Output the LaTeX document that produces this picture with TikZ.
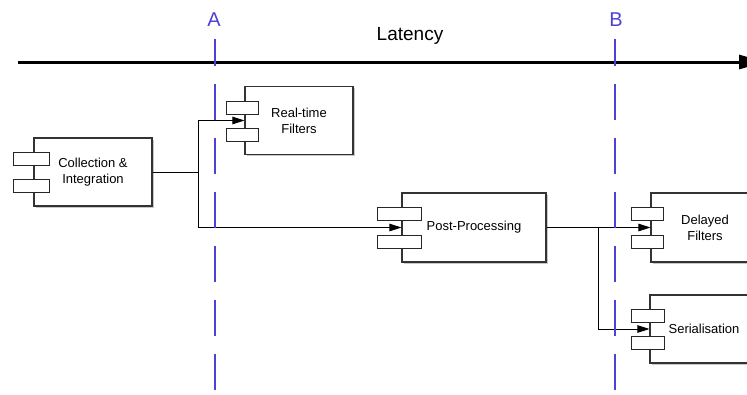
\documentclass[tikz,border=0pt]{standalone}
\usepackage{fontspec}
\setmainfont{Liberation Sans}
\usetikzlibrary{arrows.meta,shadows}
\definecolor{markblue}{RGB}{78,66,214}
\begin{document}
\begin{tikzpicture}[x=1pt,y=-1pt,
  comp/.style={draw=black!80, line width=1.1pt, fill=white, align=center,
    font=\fontsize{13}{16}\selectfont, inner sep=0pt,
    drop shadow={shadow xshift=1.5pt, shadow yshift=-1.8pt, opacity=0.22, fill=black}},
  tab/.style={draw=black!85, line width=1pt, fill=white, inner sep=0pt, minimum height=13pt},
  conn/.style={draw=black, line width=0.9pt},
  arr/.style={conn, -{Triangle[length=12pt,width=7.5pt]}},
  marker/.style={draw=markblue, line width=2pt, dash pattern=on 36pt off 18pt, dash phase=9pt},
  markerlabel/.style={text=markblue, font=\fontsize{20}{24}\selectfont, inner sep=0pt}]
\useasboundingbox (0,0) rectangle (747,394);
\fill[white] (0,0) rectangle (747,394);

% latency axis
\coordinate (ls) at (18,62);
\coordinate (le) at (765,62);
\draw[line width=3pt, -{Triangle[length=26pt,width=14pt]}] (ls) -- (le);
\node[font=\fontsize{19}{22}\selectfont, inner sep=0pt] (lat) at (410,36) {Latency};

% components
\node[comp, minimum width=118pt, minimum height=68pt] (ci) at (93,172) {Collection \&\\Integration};
\node[tab, minimum width=36pt] (ci1) at (31,158.5) {};
\node[tab, minimum width=36pt] (ci2) at (31,185.5) {};

\node[comp, minimum width=108pt, minimum height=68pt] (rt) at (299,120.5) {Real-time\\Filters};
\node[tab, minimum width=32pt] (rt1) at (242,107.5) {};
\node[tab, minimum width=32pt] (rt2) at (242,134.5) {};

\node[comp, minimum width=144pt, minimum height=69pt] (pp) at (474,227.5) {Post-Processing};
\node[tab, minimum width=44pt] (pp1) at (399,213.5) {};
\node[tab, minimum width=44pt] (pp2) at (399,241.5) {};

\node[comp, minimum width=108pt, minimum height=69pt] (df) at (705,227.5) {Delayed\\Filters};
\node[tab, minimum width=32pt] (df1) at (647,213.5) {};
\node[tab, minimum width=32pt] (df2) at (647,241.5) {};

\node[comp, minimum width=108pt, minimum height=68pt] (ser) at (704,329) {Serialisation};
\node[tab, minimum width=33pt] (ser1) at (647.5,315.5) {};
\node[tab, minimum width=33pt] (ser2) at (647.5,343) {};

% connectors
\coordinate (j1) at (198.5,172);
\coordinate (j2) at (598,227.5);
\draw[conn] (ci.east) -- (j1);
\draw[arr] (j1) |- (rt.west);
\draw[arr] (j1) |- (pp.west);
\draw[conn] (pp.east) -- (j2);
\draw[arr] (j2) -- (df.west);
\draw[arr] (j2) |- (ser.west);

% latency markers
\coordinate (at) at (215,39);
\coordinate (ab) at (215,394);
\coordinate (bt) at (615,39);
\coordinate (bb) at (615,394);
\draw[marker] (at) -- (ab);
\draw[marker] (bt) -- (bb);
\node[markerlabel] (la) at (214,19.5) {A};
\node[markerlabel] (lb) at (616,19.5) {B};
\end{tikzpicture}
\end{document}
